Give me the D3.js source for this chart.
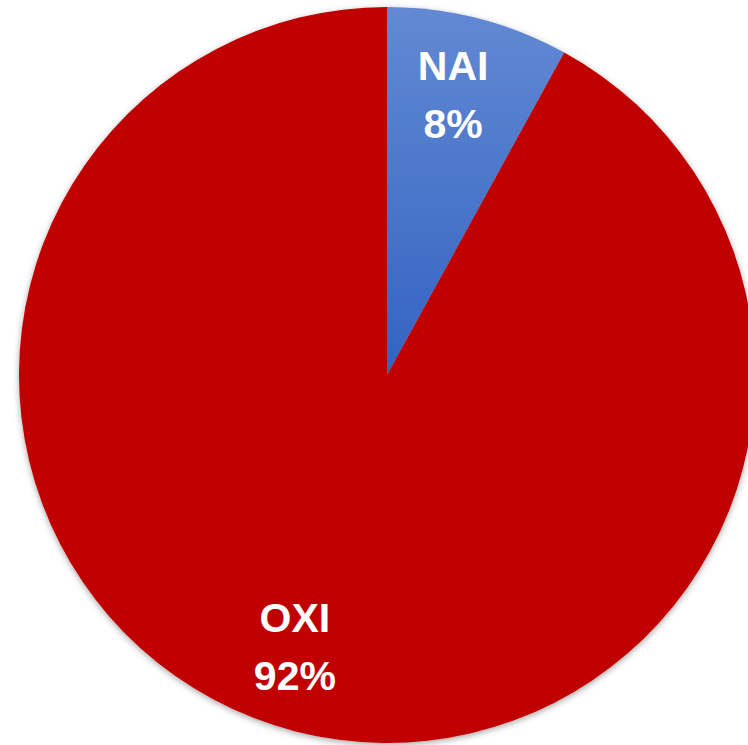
<!DOCTYPE html>
<html>
<head>
<meta charset="utf-8">
<script src="https://cdn.jsdelivr.net/npm/d3@7"></script>
<style>
    html, body { margin: 0; padding: 0; background: #ffffff; }
    svg { display: block; }
</style>
</head>
<body>
<svg id="pie-svg"></svg>
<script>
const categories = ["NAI", "OXI"];
const values = [8, 92];
const colours = ["#c00000", "#c00000"]; // NAI gets a gradient below

const width = 748;
const height = 745;
const radius = 368;
const cx = 387;
const cy = 375;

let svg = d3.select("#pie-svg")
    .attr("width", width)
    .attr("height", height);

let defs = svg.append("defs");

// soft shadow round the pie
let shadow = defs.append("filter")
    .attr("id", "shadow")
    .attr("x", "-10%").attr("y", "-10%")
    .attr("width", "120%").attr("height", "120%");
shadow.append("feDropShadow")
    .attr("dx", 0)
    .attr("dy", 2)
    .attr("stdDeviation", 3)
    .attr("flood-color", "#000")
    .attr("flood-opacity", 0.35);

// blue slice is lighter at the top (coords are local to the centred group)
let grad = defs.append("linearGradient")
    .attr("id", "blueGrad")
    .attr("gradientUnits", "userSpaceOnUse")
    .attr("x1", 0).attr("y1", -radius)
    .attr("x2", 0).attr("y2", 0);
grad.append("stop").attr("offset", "0%").attr("stop-color", "#6389d3");
grad.append("stop").attr("offset", "100%").attr("stop-color", "#3363c2");

let chart = svg.append("g")
    .attr("transform", "translate(" + cx + "," + cy + ")");

const pie = d3.pie().sort(null)(values);
const arc = d3.arc().innerRadius(0).outerRadius(radius);
const labelArc = d3.arc().innerRadius(290).outerRadius(290);

chart.append("g")
    .attr("filter", "url(#shadow)")
    .selectAll("path")
    .data(pie)
    .enter()
    .append("path")
    .attr("d", arc)
    .attr("fill", (d, i) => i === 0 ? "url(#blueGrad)" : colours[i]);

// labels: name + percent, two lines
let labels = chart.selectAll("g.label")
    .data(pie)
    .enter()
    .append("g")
    .attr("class", "label")
    .attr("transform", (d, i) => {
        let c = labelArc.centroid(d);
        if (i === 0) c[0] -= 6;
        if (i === 1) c[0] -= 20, c[1] -= 10; // OXI label sits a little left of centroid
        return "translate(" + c[0] + "," + c[1] + ")";
    });

labels.append("text")
    .attr("y", -14)
    .attr("text-anchor", "middle")
    .attr("font-family", "Liberation Sans, Arial, sans-serif")
    .attr("font-weight", "bold")
    .attr("font-size", 41)
    .attr("fill", "#ffffff")
    .text((d, i) => categories[i]);

labels.append("text")
    .attr("y", 44)
    .attr("text-anchor", "middle")
    .attr("font-family", "Liberation Sans, Arial, sans-serif")
    .attr("font-weight", "bold")
    .attr("font-size", 41)
    .attr("fill", "#ffffff")
    .text(d => d.data + "%");
</script>
</body>
</html>
